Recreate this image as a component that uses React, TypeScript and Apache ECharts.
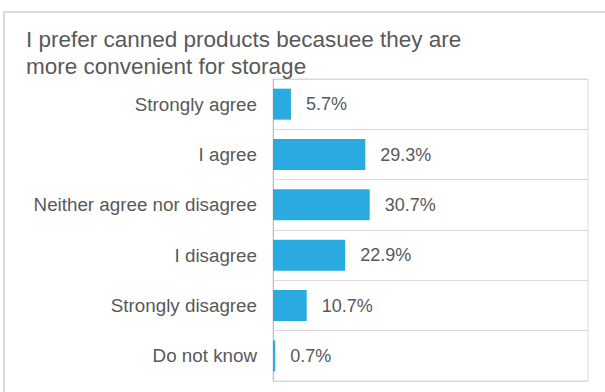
import React, { useEffect, useRef } from "react";
import * as echarts from "echarts";

const titleLines = ["I prefer canned products becasuee they are", "more convenient for storage"];
const categories = [
  "Strongly agree",
  "I agree",
  "Neither agree nor disagree",
  "I disagree",
  "Strongly disagree",
  "Do not know",
];
const values = [5.7, 29.3, 30.7, 22.9, 10.7, 0.7];

const FONT = "'Liberation Sans', Arial, sans-serif";
const TEXT = "#595959";

export default function App() {
  const ref = useRef<HTMLDivElement>(null);
  useEffect(() => {
    document.body.style.margin = "0";
    const chart = echarts.init(ref.current!, null, { renderer: "svg" });
    chart.setOption({
      animation: false,
      backgroundColor: "#ffffff",
      graphic: [
        {
          type: "rect",
          shape: { x: 4, y: 12, width: 800, height: 600 },
          style: { fill: "none", stroke: "#d9d9d9", lineWidth: 2 },
          silent: true,
        },
      ],
      title: {
        text: titleLines.join("\n"),
        left: 21,
        top: 21,
        textStyle: {
          fontFamily: FONT,
          fontSize: 22.5,
          fontWeight: "normal",
          color: TEXT,
          lineHeight: 27,
        },
      },
      grid: {
        left: 273,
        top: 79,
        right: 17,
        bottom: 11,
        show: true,
        borderColor: "#d9d9d9",
        borderWidth: 1,
      },
      xAxis: {
        type: "value",
        min: 0,
        max: 100,
        show: false,
      },
      yAxis: {
        type: "category",
        data: categories,
        inverse: true,
        axisTick: { show: false },
        axisLine: { show: true, lineStyle: { color: "#bfbfbf", width: 1 } },
        splitLine: { show: true, lineStyle: { color: "#d9d9d9", width: 1 } },
        axisLabel: {
          margin: 16,
          fontFamily: FONT,
          fontSize: 18.8,
          color: TEXT,
        },
      },
      series: [
        {
          type: "bar",
          data: values,
          barWidth: 31,
          itemStyle: { color: "#29abe2" },
          label: {
            show: true,
            position: "right",
            distance: 15,
            formatter: (p: any) => p.value.toFixed(1) + "%",
            fontFamily: FONT,
            fontSize: 18,
            color: TEXT,
          },
        },
      ],
    });
    return () => chart.dispose();
  }, []);
  return <div ref={ref} style={{ width: 605, height: 392 }} />;
}
